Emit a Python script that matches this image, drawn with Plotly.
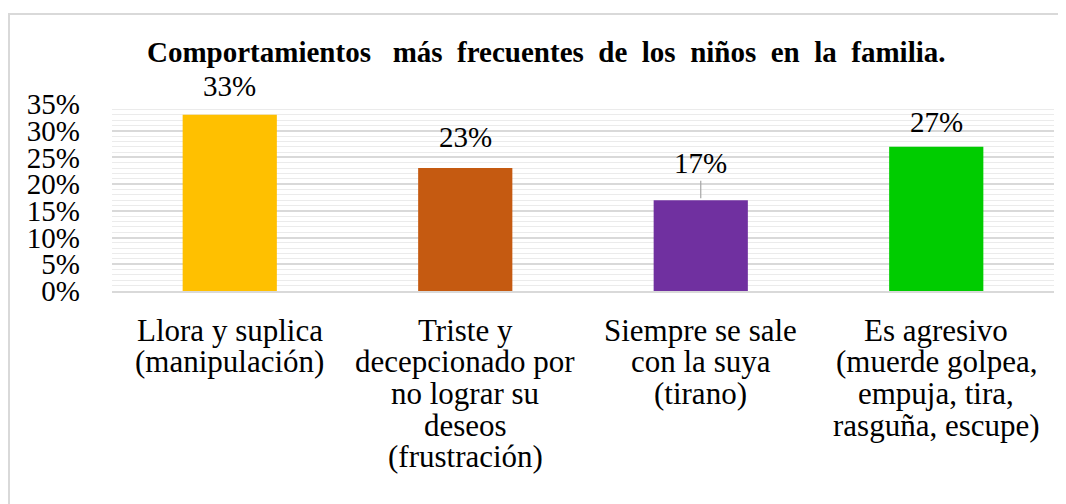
import plotly.graph_objects as go

categories = [
    "Llora y suplica<br>(manipulación)",
    "Triste y<br>decepcionado por<br>no lograr su<br>deseos<br>(frustración)",
    "Siempre se sale<br>con la suya<br>(tirano)",
    "Es agresivo<br>(muerde golpea,<br>empuja, tira,<br>rasguña, escupe)",
]
values = [33, 23, 17, 27]
labels = ["33%", "23%", "17%", "27%"]
colors = ["#FFC000", "#C55A11", "#7030A0", "#00CC00"]
label_offsets = [-29, -31, -37, -25]
tick_vals = [0, 5, 10, 15, 20, 25, 30, 35]
tick_text = ["0%", "5%", "10%", "15%", "20%", "25%", "30%", "35%"]
title_text = "Comportamientos  más frecuentes de los niños en la familia."

FONT = "Liberation Serif"
W, H = 1058, 496          # page body has an 8px margin
L, R, T, B = 104, 12, 96, 213
PW, PH = W - L - R, H - T - B

fig = go.Figure()
fig.add_trace(go.Bar(x=categories, y=values, marker=dict(color=colors, line=dict(width=0)),
                     hoverinfo="skip"))

for c, v, t, off in zip(categories, values, labels, label_offsets):
    fig.add_annotation(x=c, y=v, text=t, showarrow=True, arrowhead=0, arrowwidth=1.2,
                       arrowcolor="#A6A6A6" if off < -35 else "rgba(0,0,0,0)",
                       ax=0, ay=off, standoff=2,
                       font=dict(family=FONT, size=29, color="#000"))

# category labels, one line each (tight line spacing)
for c in categories:
    for i, line in enumerate(c.split("<br>")):
        fig.add_annotation(x=c, xref="x", y=0, yref="paper", yanchor="middle",
                           yshift=-(39 + 31.7 * i), text=line, showarrow=False,
                           font=dict(family=FONT, size=31, color="#000"))

# title: wider word spacing as in the reference (en spaces)
title_shown = title_text.replace("  ", "\u2002 ").replace(" ", "\u2002").replace("\u2002\u2002", "\u2002 ")
fig.add_annotation(text="<b>" + title_shown + "</b>", xref="paper", yref="paper",
                   x=(538 - L) / PW, y=(T + PH - 44) / PH, xanchor="center", yanchor="middle",
                   showarrow=False, font=dict(family=FONT, size=29, color="#000"))

fig.add_shape(type="rect", xref="paper", yref="paper",
              x0=(1 - L) / PW, x1=(W + 20 - L) / PW,
              y0=-(B + 20) / PH, y1=(T + PH - 6) / PH,
              line=dict(color="#D9D9D9", width=2), fillcolor="rgba(0,0,0,0)", layer="below")

fig.update_layout(
    width=W, height=H,
    margin=dict(l=L, r=R, t=T, b=B),
    paper_bgcolor="white", plot_bgcolor="white",
    bargap=0.6,
    showlegend=False,
    font=dict(family=FONT, size=29, color="#000"),
)
fig.update_yaxes(range=[0, 35], tickvals=tick_vals, ticktext=tick_text,
                 showgrid=True, gridcolor="#D9D9D9", gridwidth=1.5,
                 minor=dict(dtick=1, showgrid=True, gridcolor="#EBEBEB", gridwidth=1),
                 zeroline=False, showline=False, ticks="", ticklabelstandoff=31,
                 tickfont=dict(family=FONT, size=29, color="#000"))
fig.update_xaxes(showgrid=False, showline=True, linecolor="#D9D9D9", linewidth=1.5,
                 ticks="", showticklabels=False)

fig.write_html("out.html")
